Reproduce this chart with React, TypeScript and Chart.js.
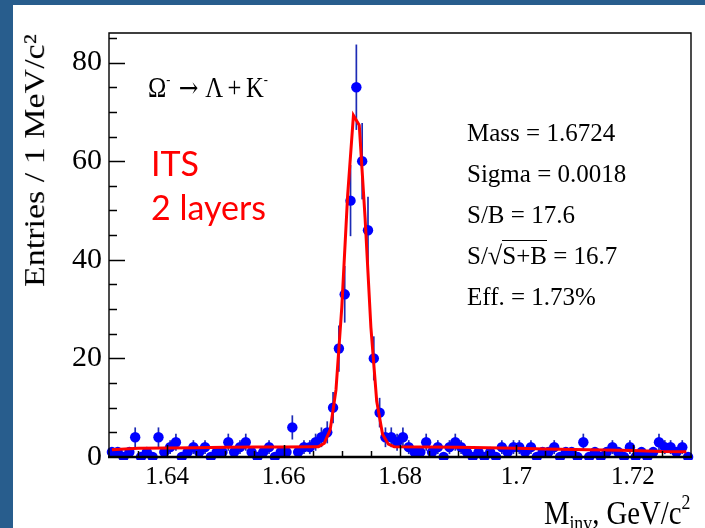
import React, { useEffect, useRef } from 'react';
import { Chart, registerables } from 'chart.js';

Chart.register(...registerables);

// Invariant-mass histogram: 1 MeV/c² bins from 1.63 to 1.73 GeV/c²
const BIN_LOW = 1.63;
const BIN_WIDTH = 0.001;

// Entries per bin
const COUNTS = [
  1, 1, 0, 1, 4, 0, 1, 0, 4, 1,
  2, 3, 0, 1, 2, 1, 2, 0, 1, 1,
  3, 1, 2, 3, 1, 0, 1, 2, 0, 1,
  1, 6, 1, 2, 2, 3, 4, 5, 10, 22,
  33, 52, 75, 60, 46, 20, 9, 4, 4, 3,
  4, 2, 1, 1, 3, 1, 2, 0, 2, 3,
  2, 1, 0, 1, 0, 1, 0, 2, 1, 2,
  2, 1, 2, 0, 1, 1, 2, 0, 1, 1,
  0, 3, 0, 1, 0, 1, 2, 1, 0, 2,
  0, 1, 0, 1, 3, 2, 2, 1, 2, 0,
];

// Fitted signal + background curve
const FIT_X = [
  1.6305, 1.635, 1.64, 1.645, 1.65, 1.655, 1.66, 1.665,
  1.666, 1.667, 1.668, 1.669, 1.67, 1.671, 1.672, 1.673, 1.674,
  1.675, 1.676, 1.677, 1.678, 1.679,
  1.685, 1.69, 1.695, 1.7, 1.705, 1.71, 1.715, 1.72, 1.725, 1.7292,
];
const FIT_Y = [
  1.45, 1.75, 1.85, 1.9, 2.0, 2.05, 2.05, 2.1,
  2.1, 2.8, 5.5, 13.6, 30.4, 53.0, 69.3, 67.3, 48.5,
  26.3, 11.3, 4.6, 2.6, 2.1,
  2.05, 2.0, 1.9, 1.75, 1.6, 1.5, 1.4, 1.3, 1.1, 1.05,
];

const X_MIN = 1.63;
const X_MAX = 1.73;
const Y_MIN = 0;
const Y_MAX = 86;
const X_TICKS = [1.64, 1.66, 1.68, 1.7, 1.72];
const X_TICK_LABELS = ['1.64', '1.66', '1.68', '1.7', '1.72'];
const X_MINOR_STEP = 0.005;
const Y_TICKS = [0, 20, 40, 60, 80];
const Y_TICK_LABELS = ['0', '20', '40', '60', '80'];
const Y_MINOR_STEP = 5;

const STATS: [string, string][] = [
  ['Mass', '1.6724'],
  ['Sigma', '0.0018'],
  ['S/B', '17.6'],
  ['S/√S+B', '16.7'],
  ['Eff.', '1.73%'],
];

const MARKER_COLOR = '#0000ff';
const ERROR_COLOR = '#1d2bb5';
const FIT_COLOR = '#ff0000';
const PANEL_BLUE = '#285d8d';
const SERIF = '"Liberation Serif", "Times New Roman", serif';

const binCenter = (i: number) => BIN_LOW + (i + 0.5) * BIN_WIDTH;

// Error bars underneath the markers, and ROOT-style frame with inward ticks on top
const rootStyle = {
  id: 'rootStyle',
  beforeDatasetsDraw(chart: any) {
    const { ctx, scales } = chart;
    const xs = scales.x;
    const ys = scales.y;
    ctx.save();
    ctx.strokeStyle = ERROR_COLOR;
    ctx.lineWidth = 1.7;
    COUNTS.forEach((n, i) => {
      if (n <= 0) return;
      const px = xs.getPixelForValue(binCenter(i));
      const err = Math.sqrt(n);
      ctx.beginPath();
      ctx.moveTo(px, ys.getPixelForValue(n + err));
      ctx.lineTo(px, ys.getPixelForValue(Math.max(0, n - err)));
      ctx.stroke();
    });
    ctx.restore();
  },
  afterDatasetsDraw(chart: any) {
    const { ctx, chartArea: a, scales } = chart;
    const xs = scales.x;
    const ys = scales.y;
    ctx.save();
    ctx.strokeStyle = '#000';
    ctx.lineWidth = 1.5;
    // x ticks, pointing into the frame
    const nx = Math.round((X_MAX - X_MIN) / X_MINOR_STEP);
    for (let k = 1; k < nx; k++) {
      const v = X_MIN + k * X_MINOR_STEP;
      const major = X_TICKS.some((t) => Math.abs(t - v) < 1e-7);
      const px = Math.round(xs.getPixelForValue(v)) + 0.5;
      ctx.beginPath();
      ctx.moveTo(px, a.bottom);
      ctx.lineTo(px, a.bottom - (major ? 12 : 6));
      ctx.stroke();
    }
    // y ticks
    for (let v = Y_MIN + Y_MINOR_STEP; v < Y_MAX; v += Y_MINOR_STEP) {
      const major = Y_TICKS.includes(v);
      const py = Math.round(ys.getPixelForValue(v)) + 0.5;
      ctx.beginPath();
      ctx.moveTo(a.left, py);
      ctx.lineTo(a.left + (major ? 16 : 8), py);
      ctx.stroke();
    }
    // frame
    ctx.lineWidth = 1.4;
    ctx.beginPath();
    ctx.moveTo(a.left, a.bottom);
    ctx.lineTo(a.left, a.top);
    ctx.lineTo(a.right, a.top);
    ctx.lineTo(a.right, a.bottom);
    ctx.stroke();
    ctx.lineWidth = 2.6;
    ctx.beginPath();
    ctx.moveTo(a.left - 1, a.bottom);
    ctx.lineTo(a.right + 1, a.bottom);
    ctx.stroke();
    ctx.restore();
  },
};

function MassChart() {
  const canvasRef = useRef<HTMLCanvasElement | null>(null);

  useEffect(() => {
    const canvas = canvasRef.current;
    if (!canvas) return;
    const points = COUNTS.map((n, i) => ({ x: binCenter(i), y: n }));
    const fit = FIT_X.map((x, i) => ({ x, y: FIT_Y[i] }));

    const chart = new Chart(canvas, {
      type: 'scatter',
      data: {
        datasets: [
          {
            data: fit,
            showLine: true,
            borderColor: FIT_COLOR,
            borderWidth: 3,
            pointRadius: 0,
            tension: 0,
            order: 0,
          },
          {
            data: points,
            pointRadius: 5.2,
            pointBackgroundColor: MARKER_COLOR,
            pointBorderWidth: 0,
            showLine: false,
            clip: { left: 6, right: 6, top: 6, bottom: 3 },
            order: 1,
          },
        ],
      },
      options: {
        animation: false,
        responsive: false,
        events: [],
        layout: { padding: { top: 33, right: 14, left: 0, bottom: 0 } },
        plugins: {
          legend: { display: false },
          tooltip: { enabled: false },
        },
        scales: {
          x: {
            type: 'linear',
            min: X_MIN,
            max: X_MAX,
            afterBuildTicks: (s: any) => {
              s.ticks = X_TICKS.map((value) => ({ value }));
            },
            afterFit: (s: any) => {
              s.height = 71;
            },
            ticks: {
              autoSkip: false,
              maxRotation: 0,
              padding: 5,
              color: '#000',
              font: { family: SERIF, size: 25 },
              callback: (v: any) => {
                const idx = X_TICKS.findIndex((t) => Math.abs(t - Number(v)) < 1e-7);
                return idx >= 0 ? X_TICK_LABELS[idx] : '';
              },
            },
            grid: { display: false, drawTicks: false },
            border: { display: false },
          },
          y: {
            type: 'linear',
            min: Y_MIN,
            max: Y_MAX,
            afterBuildTicks: (s: any) => {
              s.ticks = Y_TICKS.map((value) => ({ value }));
            },
            afterFit: (s: any) => {
              s.width = 109;
            },
            ticks: {
              padding: 7,
              color: '#000',
              font: { family: SERIF, size: 30 },
              callback: (v: any) => {
                const idx = Y_TICKS.indexOf(Number(v));
                return idx >= 0 ? Y_TICK_LABELS[idx] : '';
              },
            },
            grid: { display: false, drawTicks: false },
            border: { display: false },
          },
        },
      },
      plugins: [rootStyle],
    } as any);

    return () => chart.destroy();
  }, []);

  return (
    <canvas
      ref={canvasRef}
      width={705}
      height={528}
      style={{ position: 'absolute', left: 0, top: 0, width: 705, height: 528, display: 'block' }}
    />
  );
}

const abs = (style: React.CSSProperties): React.CSSProperties => ({
  position: 'absolute',
  whiteSpace: 'nowrap',
  ...style,
});

const supMinus: React.CSSProperties = { fontSize: '0.5em', verticalAlign: '0.9em' };

export default function App() {
  return (
    <div
      style={{
        position: 'absolute',
        left: 0,
        top: 0,
        width: 705,
        height: 528,
        background: PANEL_BLUE,
        overflow: 'hidden',
      }}
    >
      <div style={{ position: 'absolute', left: 13, top: 5, right: 0, bottom: 0, background: '#fff' }} />
      <MassChart />

      {/* y-axis title */}
      <div
        style={abs({
          left: 19,
          top: 287,
          lineHeight: '36px',
          fontFamily: SERIF,
          fontSize: 34,
          color: '#000',
          transform: 'rotate(-90deg) scaleY(0.87)',
          transformOrigin: '0 0',
        })}
      >
        Entries / 1 MeV/c²
      </div>

      {/* x-axis title */}
      <div
        style={abs({
          right: 15,
          top: 482,
          lineHeight: '40px',
          fontFamily: SERIF,
          fontSize: 33,
          color: '#000',
          transform: 'scaleX(0.87)',
          transformOrigin: '100% 0',
        })}
      >
        M<sub style={{ fontSize: '0.62em', verticalAlign: '-0.3em' }}>inv</sub>, GeV/c
        <sup style={{ fontSize: '0.62em', verticalAlign: '0.75em' }}>2</sup>
      </div>

      {/* decay channel */}
      <div
        style={abs({
          left: 148,
          top: 62,
          lineHeight: '34px',
          fontFamily: SERIF,
          fontSize: 29,
          color: '#000',
          transform: 'scaleX(0.85)',
          transformOrigin: '0 0',
        })}
      >
        Ω<sup style={supMinus}>-</sup>
        <span
          style={{
            fontFamily: '"DejaVu Serif", serif',
            fontSize: '0.95em',
            margin: '0 0.3em 0 0.35em',
          }}
        >
          →
        </span>
        Λ<span style={{ margin: '0 0.18em' }}>+</span>K
        <sup style={supMinus}>-</sup>
      </div>

      {/* detector configuration */}
      <div
        style={abs({
          left: 151,
          top: 141,
          lineHeight: '44px',
          fontFamily: 'Lato, "Open Sans", sans-serif',
          fontSize: 34,
          color: FIT_COLOR,
        })}
      >
        ITS
        <br />2 layers
      </div>

      {/* fit results */}
      <div
        style={abs({
          left: 467,
          top: 112,
          lineHeight: '41px',
          fontFamily: SERIF,
          fontSize: 25,
          color: '#000',
        })}
      >
        {STATS.map(([name, value]) => (
          <div key={name}>
            {name === 'S/√S+B' ? (
              <>
                S/<span style={{ fontSize: '1.05em' }}>√</span>
                <span style={{ borderTop: '1.5px solid #000', paddingTop: 1 }}>S+B</span>
              </>
            ) : (
              name
            )}{' '}
            = {value}
          </div>
        ))}
      </div>
    </div>
  );
}
